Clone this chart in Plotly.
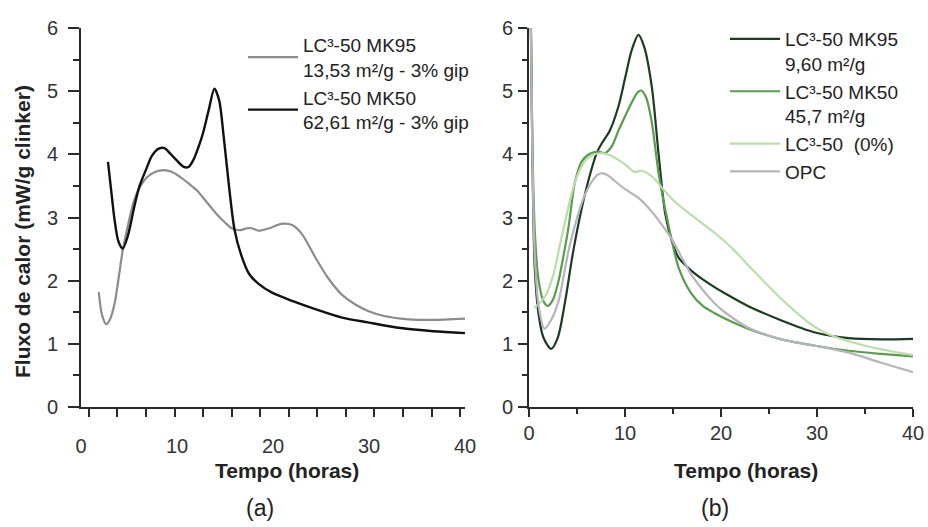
import plotly.graph_objects as go

W, H = 928, 527

# ---------------- Panel (a) data ----------------
a_mk95_x = [1.85, 2.2, 2.64, 3.0, 3.5, 4.35, 5.0, 5.55, 6.2, 6.9, 7.7, 8.6, 9.5, 10.35, 11.2, 12.06,
            13.0, 14.1, 15.0, 15.8, 16.6, 17.3, 17.8, 18.5, 19.6, 20.9, 22.0, 23.0, 24.4, 25.7, 27.1,
            28.5, 29.9, 31.6, 33.3, 35.0, 36.7, 40.0]
a_mk95_y = [1.82, 1.45, 1.31, 1.38, 1.64, 2.48, 2.95, 3.28, 3.50, 3.64, 3.72, 3.75, 3.72, 3.64, 3.54, 3.43,
            3.26, 3.06, 2.92, 2.82, 2.80, 2.83, 2.83, 2.79, 2.83, 2.90, 2.88, 2.74, 2.37, 2.05, 1.79,
            1.63, 1.52, 1.44, 1.40, 1.38, 1.38, 1.40]

a_mk50_x = [2.81, 3.2, 3.5, 3.9, 4.35, 4.9, 5.55, 6.1, 6.75, 7.4, 8.1, 8.7, 9.3, 10.0, 10.7, 11.2, 11.7,
            12.2, 12.7, 13.3, 13.9, 14.4, 14.85, 15.45, 16.0, 16.7, 17.5, 18.5, 19.9, 22.0, 24.4, 27.1,
            29.9, 33.3, 36.7, 40.0]
a_mk50_y = [3.88, 3.35, 2.96, 2.62, 2.51, 2.72, 3.17, 3.50, 3.75, 3.98, 4.09, 4.10, 4.01, 3.90, 3.80, 3.80, 3.91,
            4.10, 4.33, 4.70, 5.04, 4.85, 4.30, 3.45, 2.80, 2.40, 2.11, 1.95, 1.81, 1.68, 1.55, 1.42,
            1.34, 1.25, 1.20, 1.17]

# ---------------- Panel (b) data ----------------
b_mk95_x = [0.2, 0.35, 0.6, 0.97, 1.5, 2.3, 3.0, 3.75, 4.6, 5.5, 6.3, 7.05, 7.6, 8.4, 9.3, 10.0, 10.7, 11.4,
            12.0, 12.8, 13.5, 14.2, 14.9, 15.6, 16.9, 18.1, 19.4, 20.4, 22.8, 26.3, 29.8, 33.3, 36.7, 40.0]
b_mk95_y = [6.0, 4.0, 2.2, 1.5, 1.1, 0.92, 1.1, 1.66, 2.46, 3.15, 3.65, 4.02, 4.18, 4.37, 4.75, 5.2, 5.65, 5.89,
            5.7, 5.06, 4.0, 3.05, 2.62, 2.36, 2.16, 2.02, 1.89, 1.80, 1.60, 1.37, 1.18, 1.09, 1.07, 1.08]

b_mk50_x = [0.2, 0.35, 0.6, 1.0, 1.5, 1.95, 2.5, 3.05, 3.6, 4.1, 4.8, 5.5, 6.5, 7.3, 7.9, 8.6, 9.3, 10.0,
            10.7, 11.3, 11.7, 12.2, 12.8, 13.5, 14.5, 15.6, 16.9, 18.1, 19.4, 20.4, 22.8, 26.3, 29.8,
            33.3, 36.7, 40.0]
b_mk50_y = [6.0, 4.2, 2.8, 2.0, 1.68, 1.60, 1.70, 1.98, 2.40, 2.83, 3.57, 3.89, 4.02, 4.04, 4.02, 4.12, 4.37, 4.60,
            4.82, 4.98, 5.01, 4.90, 4.50, 3.70, 2.90, 2.20, 1.80, 1.60, 1.48, 1.40, 1.24, 1.07, 0.97,
            0.89, 0.84, 0.80]

b_lc0_x = [0.55, 0.9, 1.3, 1.8, 2.3, 2.7, 3.2, 3.75, 4.4, 5.0, 5.7, 6.5, 7.6, 8.5, 10.0, 11.0, 11.7, 12.8,
           14.2, 15.2, 16.9, 19.4, 20.4, 21.5, 23.5, 26.3, 29.1, 31.2, 35.0, 40.0]
b_lc0_y = [1.57, 1.62, 1.68, 1.78, 1.98, 2.19, 2.55, 2.93, 3.35, 3.65, 3.87, 3.98, 4.02, 3.98, 3.84, 3.72, 3.74, 3.65,
           3.41, 3.25, 3.04, 2.75, 2.62, 2.46, 2.14, 1.71, 1.34, 1.15, 0.97, 0.82]

b_opc_x = [0.2, 0.35, 0.6, 1.0, 1.6, 2.2, 3.05, 4.1, 5.0, 5.8, 6.6, 7.2, 7.7, 8.3, 9.0, 10.0, 11.4, 12.8,
           14.0, 14.9, 16.9, 18.5, 19.4, 20.4, 22.8, 26.3, 29.8, 33.3, 36.7, 40.0]
b_opc_y = [6.0, 4.0, 2.4, 1.6, 1.24, 1.35, 1.66, 2.46, 2.99, 3.35, 3.58, 3.68, 3.70, 3.66, 3.57, 3.45, 3.31, 3.09,
           2.85, 2.65, 2.10, 1.78, 1.63, 1.50, 1.26, 1.07, 0.97, 0.86, 0.70, 0.55]

x_tick_vals = [0, 10, 20, 30, 40]
y_tick_vals = [0, 1, 2, 3, 4, 5, 6]

FONT = "Liberation Sans, Arial, sans-serif"
AX = "#2a2a2a"

fig = go.Figure()

def add(x, y, name, color, width, xa, ya, legend):
    fig.add_trace(go.Scatter(x=x, y=y, mode="lines", name=name,
                             line=dict(color=color, width=width, shape="spline", smoothing=0.8),
                             xaxis=xa, yaxis=ya, legend=legend, hoverinfo="skip"))

add(a_mk95_x, a_mk95_y, "LC³-50 MK95<br>13,53 m²/g - 3% gip", "#8c8c8c", 2.2, "x", "y", "legend")
add(a_mk50_x, a_mk50_y, "LC³-50 MK50<br>62,61 m²/g - 3% gip", "#111111", 2.4, "x", "y", "legend")

add(b_mk95_x, b_mk95_y, "LC³-50 MK95<br>9,60 m²/g", "#1e3b22", 2.2, "x2", "y2", "legend2")
add(b_mk50_x, b_mk50_y, "LC³-50 MK50<br>45,7 m²/g", "#5a9c4e", 2.2, "x2", "y2", "legend2")
add(b_lc0_x, b_lc0_y, "LC³-50\u00a0 (0%)", "#bcdcab", 2.2, "x2", "y2", "legend2")
add(b_opc_x, b_opc_y, "OPC", "#b6b5bb", 2.2, "x2", "y2", "legend2")

ydom = [1 - 407 / H, 1 - 28 / H]

common_axis = dict(showline=True, linecolor=AX, linewidth=2, showgrid=False, zeroline=False,
                   automargin=False,
                   tickfont=dict(family=FONT, size=20, color="#333"), tickcolor=AX, tickwidth=1.6)

fig.update_layout(
    template="none",
    width=W, height=H, margin=dict(l=0, r=0, t=0, b=0, pad=0, autoexpand=False),
    paper_bgcolor="white", plot_bgcolor="white",
    font=dict(family=FONT, color="#222"),
    xaxis=dict(**common_axis, domain=[81 / W, 465 / W], range=[0, 40], anchor="y",
               tickmode="array", tickvals=x_tick_vals, ticks="", ticklabelstandoff=20,
               minor=dict(tickmode="linear", tick0=0.82, dtick=2.975, ticks="outside",
                          ticklen=8, tickcolor=AX, tickwidth=1.6)),
    yaxis=dict(**common_axis, domain=ydom, range=[0, 6], anchor="x",
               tickmode="array", tickvals=y_tick_vals, ticks="outside", ticklen=11,
               ticklabelstandoff=6,
               minor=dict(tickmode="linear", tick0=0, dtick=0.5, ticks="outside",
                          ticklen=6, tickcolor=AX, tickwidth=1.6)),
    xaxis2=dict(**common_axis, domain=[529 / W, 913 / W], range=[0, 40], anchor="y2",
                tickmode="array", tickvals=x_tick_vals, ticks="outside", ticklen=8,
                ticklabelstandoff=-1,
                minor=dict(tickmode="linear", tick0=0, dtick=5, ticks="outside",
                           ticklen=5, tickcolor=AX, tickwidth=1.6)),
    yaxis2=dict(**common_axis, domain=ydom, range=[0, 6], anchor="x2",
                tickmode="array", tickvals=y_tick_vals, ticks="outside", ticklen=9,
                ticklabelstandoff=1,
                minor=dict(tickmode="linear", tick0=0, dtick=0.5, ticks="outside",
                           ticklen=5, tickcolor=AX, tickwidth=1.6)),
    legend=dict(x=243 / W, y=1 - 26 / H, xanchor="left", yanchor="top",
                bgcolor="rgba(0,0,0,0)", borderwidth=0,
                font=dict(family=FONT, size=19, color="#222"),
                itemwidth=50, valign="middle", tracegroupgap=0),
    legend2=dict(x=725 / W, y=1 - 20 / H, xanchor="left", yanchor="top",
                 bgcolor="rgba(0,0,0,0)", borderwidth=0,
                 font=dict(family=FONT, size=19, color="#222"),
                 itemwidth=50, valign="top", tracegroupgap=0),
    showlegend=True,
)

annots = [
    dict(text="<b>Tempo (horas)</b>", x=287 / W, y=1 - 470 / H, size=21),
    dict(text="<b>Tempo (horas)</b>", x=746 / W, y=1 - 470 / H, size=21),
    dict(text="(a)", x=260 / W, y=1 - 508 / H, size=23),
    dict(text="(b)", x=715 / W, y=1 - 508 / H, size=23),
]
for a in annots:
    fig.add_annotation(text=a["text"], x=a["x"], y=a["y"], xref="paper", yref="paper",
                       showarrow=False, xanchor="center", yanchor="middle",
                       font=dict(family=FONT, size=a["size"], color="#222"))
fig.add_annotation(text="<b>Fluxo de calor (mW/g clinker)</b>", x=23 / W, y=1 - 232 / H,
                   xref="paper", yref="paper", showarrow=False, textangle=-90,
                   xanchor="center", yanchor="middle",
                   font=dict(family=FONT, size=21, color="#222"))

fig.write_html("out.html", config={"displayModeBar": False},
               post_script="document.body.style.margin='0';document.body.style.padding='0';")
